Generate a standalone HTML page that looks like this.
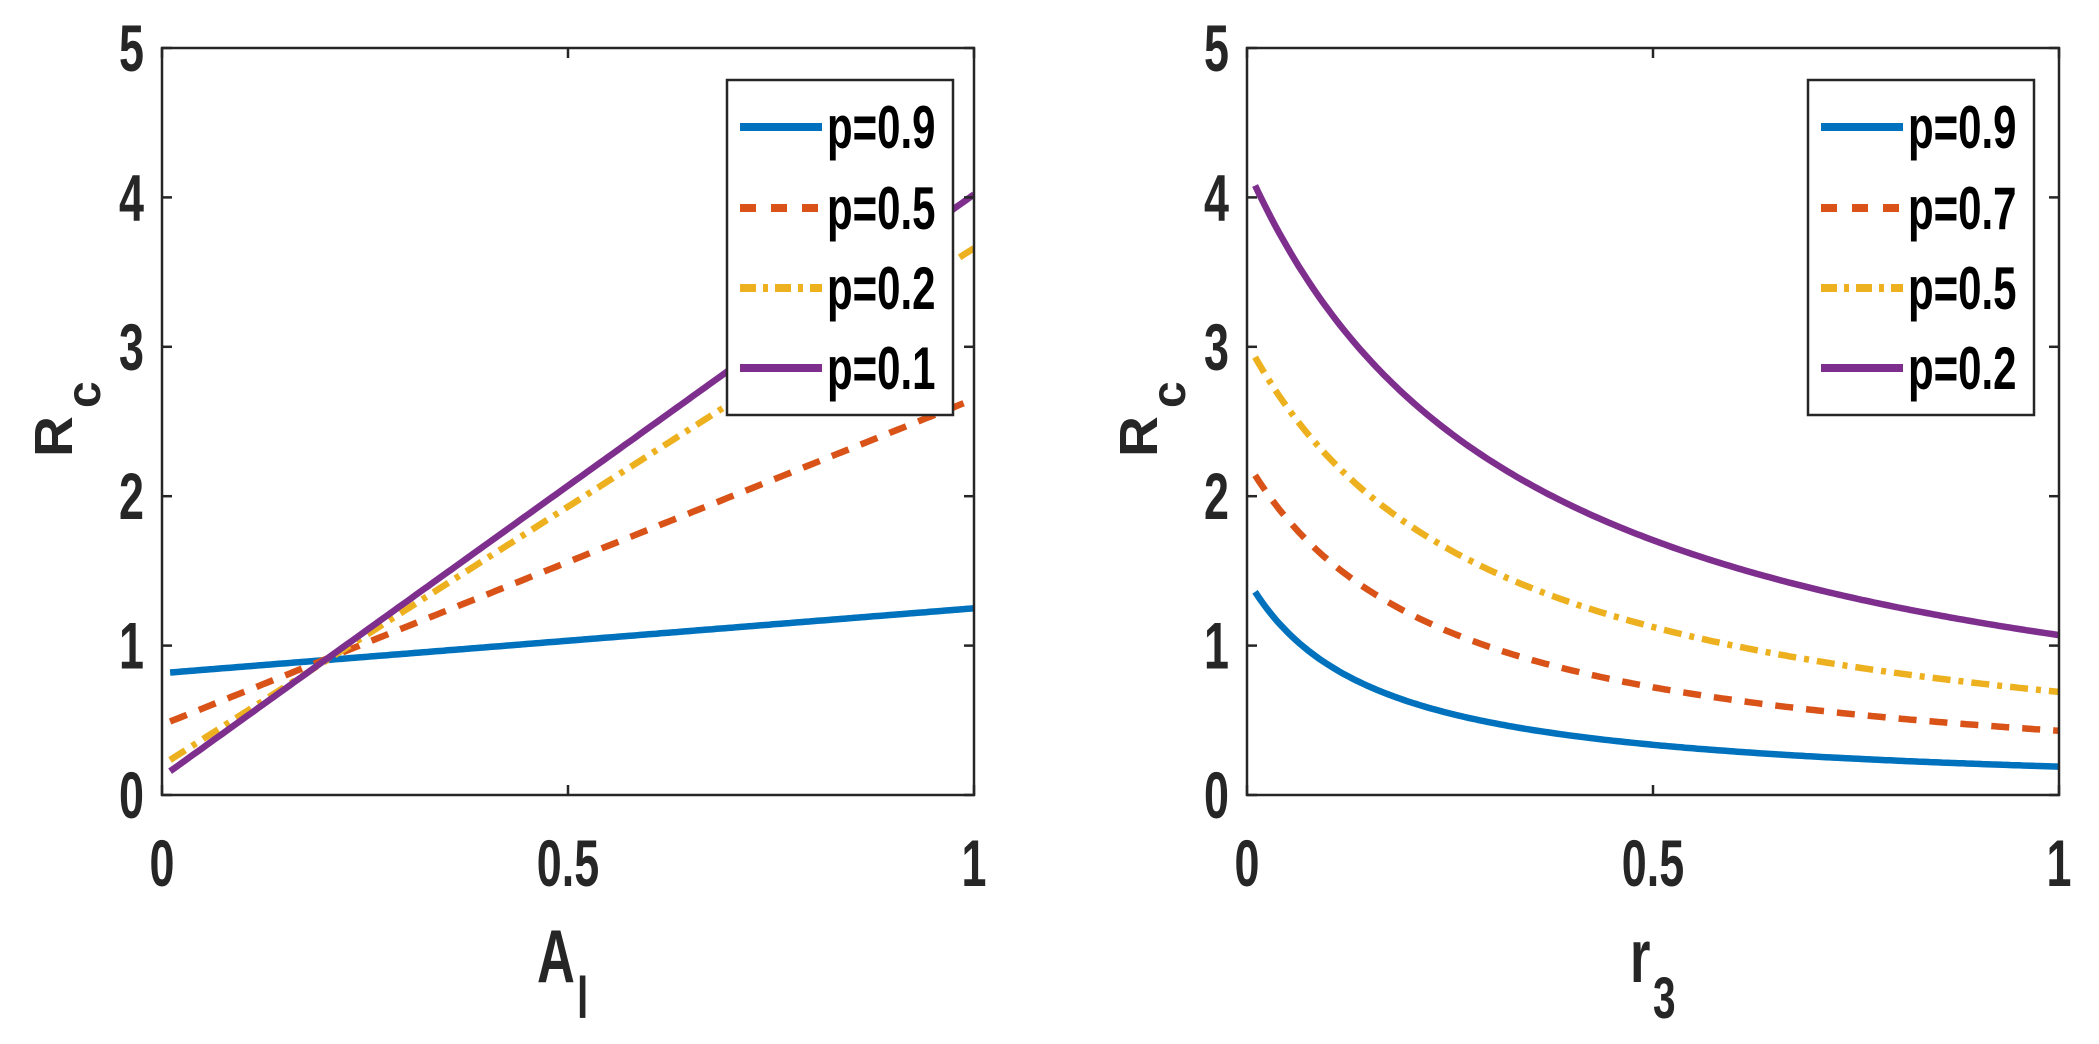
<!DOCTYPE html>
<html><head><meta charset="utf-8"><style>
html,body{margin:0;padding:0;background:#fff;}
svg{display:block;}
</style></head><body>
<svg id="s" width="2099" height="1044" viewBox="0 0 2099 1044" xmlns="http://www.w3.org/2000/svg" font-family="'Liberation Sans', sans-serif" font-weight="bold"></svg>
<script>
const S=document.getElementById('s');const NS='http://www.w3.org/2000/svg';
function el(t,a){const e=document.createElementNS(NS,t);for(const k in a)e.setAttribute(k,a[k]);S.appendChild(e);return e;}
function txt(s,x,y,size,anchor,fill,sx,rot){sx=sx||0.68;
 const g=el('g',{transform:`translate(${x},${y})`+(rot?` rotate(${rot})`:'')+` scale(${sx},1)`});
 const t=document.createElementNS(NS,'text');t.setAttribute('x',0);t.setAttribute('y',0);t.setAttribute('font-size',size);
 t.setAttribute('text-anchor',anchor);t.setAttribute('fill',fill||'#262626');t.textContent=s;g.appendChild(t);return g;}
const C={b:'#0072BD',o:'#D95319',y:'#EDB120',p:'#7E2F8E'};
const dash={solid:'',dash:'18 13',dd:'18 8 5 8'};
function panel(L,R,T,B,series,leg,lx,xlab,sub,xo,so){
 const fx=v=>L+(R-L)*v, fy=v=>B-(B-T)*v/5;
 const id='c'+L;const cp=el('clipPath',{id});const r=document.createElementNS(NS,'rect');
 r.setAttribute('x',L);r.setAttribute('y',T);r.setAttribute('width',R-L);r.setAttribute('height',B-T);cp.appendChild(r);
 series.forEach(s=>{let pts=[];for(let i=0;i<=200;i++){const x=0.01+0.99*i/200;pts.push(fx(x).toFixed(1)+','+fy(s.f(x)).toFixed(1));}
  el('polyline',{points:pts.join(' '),fill:'none',stroke:s.c,'stroke-width':6.5,'stroke-dasharray':dash[s.d],'clip-path':`url(#${id})`});});
 for(let k=0;k<=5;k++){const y=fy(k);el('line',{x1:L,x2:L+10,y1:y,y2:y,stroke:'#262626','stroke-width':2.5});el('line',{x1:R,x2:R-10,y1:y,y2:y,stroke:'#262626','stroke-width':2.5});
  txt(String(k),L-18,y+23,66,'end');}
 [0,0.5,1].forEach(v=>{const x=fx(v);el('line',{x1:x,x2:x,y1:B,y2:B-10,stroke:'#262626','stroke-width':2.5});el('line',{x1:x,x2:x,y1:T,y2:T+10,stroke:'#262626','stroke-width':2.5});
  txt(String(v),x,886,66,'middle');});
 el('rect',{x:L,y:T,width:R-L,height:B-T,fill:'none',stroke:'#262626','stroke-width':2.5});
 el('rect',{x:lx,y:80,width:226,height:335,fill:'#fff',stroke:'#262626','stroke-width':2.5});
 const ys=[127,208,288,368];
 series.forEach((s,i)=>{el('line',{x1:lx+13,x2:lx+95,y1:ys[i],y2:ys[i],stroke:s.c,'stroke-width':8,'stroke-dasharray':s.d=='dash'?'16 15':(s.d=='dd'?'16 7 5 7':'')});
  txt(leg[i],lx+100,ys[i]+21,60,'start','#000',0.7);});
 const xc=(L+R)/2;
 txt(xlab,xc+xo,982,75,'start','#262626',0.7);
 txt(sub,xc+so,1018,58,'start','#262626',0.7);
 txt('R',L-90,457,54,'start','#262626',1.05,-90);
 txt('c',L-62,408,48,'start','#262626',1.0,-90);
}
panel(162,974,48,795,[
 {c:C.b,d:'solid',f:x=>0.82+0.434*(x-0.01)},
 {c:C.o,d:'dash',f:x=>0.47+2.18*x},
 {c:C.y,d:'dd',f:x=>0.2+3.46*x},
 {c:C.p,d:'solid',f:x=>0.12+3.9*x}
],['p=0.9','p=0.5','p=0.2','p=0.1'],727,'A','l',-31,9);
panel(1247,2059,48,795,[
 {c:C.b,d:'solid',f:x=>0.2187/(x+0.1508)},
 {c:C.o,d:'dash',f:x=>0.533/(x+0.239)},
 {c:C.y,d:'dd',f:x=>0.894/(x+0.295)},
 {c:C.p,d:'solid',f:x=>1.436/(x+0.342)}
],['p=0.9','p=0.7','p=0.5','p=0.2'],1808,'r','3',-23,0);
</script>
</body></html>
